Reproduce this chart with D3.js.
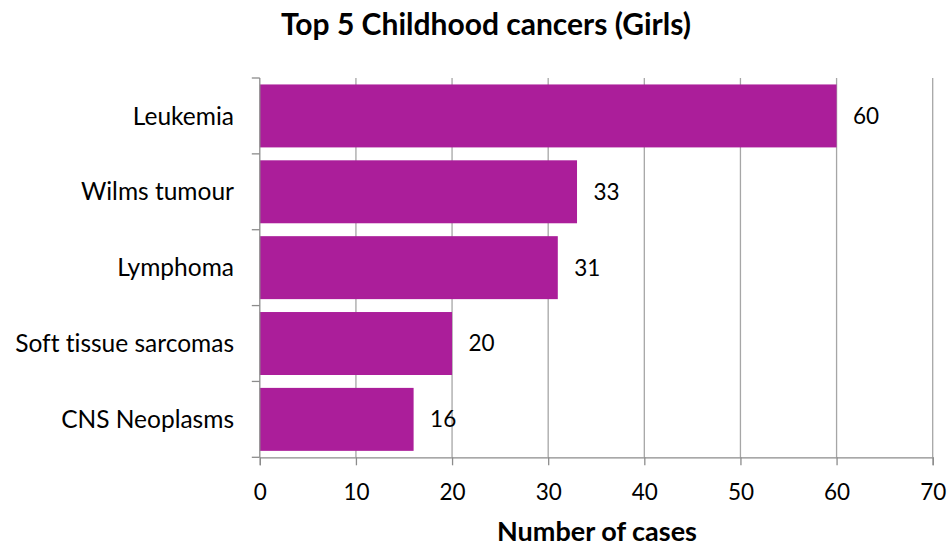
<!DOCTYPE html>
<html>
<head>
<meta charset="utf-8">
<script src="https://cdn.jsdelivr.net/npm/d3@7"></script>
<style>
  html, body { margin: 0; padding: 0; background: #fff; }
  svg { display: block; font-family: Lato, "Open Sans", sans-serif; font-variant-ligatures: none; }
</style>
</head>
<body>
<svg id="chart" width="950" height="548"></svg>
<script>
// Cancer types, top to bottom, with case counts
const categories = ["Leukemia", "Wilms tumour", "Lymphoma", "Soft tissue sarcomas", "CNS Neoplasms"];
const cases = [60, 33, 31, 20, 16];
const xTicks = [0, 10, 20, 30, 40, 50, 60, 70];
const chartTitle = "Top 5 Childhood cancers (Girls)";
const xAxisTitle = "Number of cases";

const barColor = "#AB1E9A";
const gridColor = "#A6A6A6";
const axisColor = "#8C8C8C";

const svg = d3.select("#chart");
const plot = { left: 259.8, right: 932.7, top: 78, bottom: 457.3 };

const x = d3.scaleLinear().domain([0, 70]).range([plot.left, plot.right]);
const y = d3.scaleBand().domain(categories).range([plot.top, plot.bottom])
  .paddingInner(0.17).paddingOuter(0.085);

const rows = categories.map((c, i) => ({ name: c, value: cases[i] }));

// vertical gridlines
svg.append("g").selectAll("line").data(xTicks.filter(t => t > 0)).join("line")
  .attr("x1", d => x(d)).attr("x2", d => x(d))
  .attr("y1", plot.top).attr("y2", plot.bottom)
  .attr("stroke", gridColor).attr("stroke-width", 1.3);

// bars
svg.append("g").selectAll("rect").data(rows).join("rect")
  .attr("x", x(0)).attr("y", d => y(d.name))
  .attr("width", d => x(d.value) - x(0)).attr("height", y.bandwidth())
  .attr("fill", barColor);

// value labels
svg.append("g").selectAll("text").data(rows).join("text")
  .attr("x", d => x(d.value) + 16.5).attr("y", d => y(d.name) + y.bandwidth() / 2)
  .attr("dy", "0.35em")
  .attr("font-size", 22.5).attr("fill", "#000")
  .text(d => d.value);

// x axis
const xAxis = d3.axisBottom(x).tickValues(xTicks).tickSize(8).tickPadding(19).tickFormat(d3.format("d"));
const gx = svg.append("g").attr("transform", `translate(0,${plot.bottom})`).call(xAxis);
gx.select(".domain").attr("stroke", axisColor).attr("stroke-width", 1.3);
gx.selectAll(".tick line").attr("stroke", axisColor).attr("stroke-width", 1.3);
gx.selectAll(".tick text").attr("font-size", 22.5).attr("font-family", "Lato, sans-serif").attr("fill", "#000");

// y axis: line with tick marks at band boundaries
const step = y.step();
const bounds = categories.map(c => y(c) - step * y.paddingInner() / 2).concat([plot.bottom]);
svg.append("line").attr("x1", plot.left).attr("x2", plot.left)
  .attr("y1", plot.top).attr("y2", plot.bottom)
  .attr("stroke", axisColor).attr("stroke-width", 1.3);
svg.append("g").selectAll("line").data(bounds).join("line")
  .attr("x1", plot.left - 8).attr("x2", plot.left)
  .attr("y1", d => d).attr("y2", d => d)
  .attr("stroke", axisColor).attr("stroke-width", 1.3);

// category labels
svg.append("g").selectAll("text").data(rows).join("text")
  .attr("x", 234).attr("y", d => y(d.name) + y.bandwidth() / 2)
  .attr("dy", "0.35em").attr("text-anchor", "end")
  .attr("font-size", 24.5).attr("fill", "#000")
  .text(d => d.name);

// titles
svg.append("text").attr("x", 486).attr("y", 35).attr("text-anchor", "middle")
  .attr("font-size", 30).attr("font-weight", "bold").text(chartTitle);
svg.append("text").attr("x", 597).attr("y", 541).attr("text-anchor", "middle")
  .attr("font-size", 27).attr("font-weight", "bold").text(xAxisTitle);
</script>
</body>
</html>
